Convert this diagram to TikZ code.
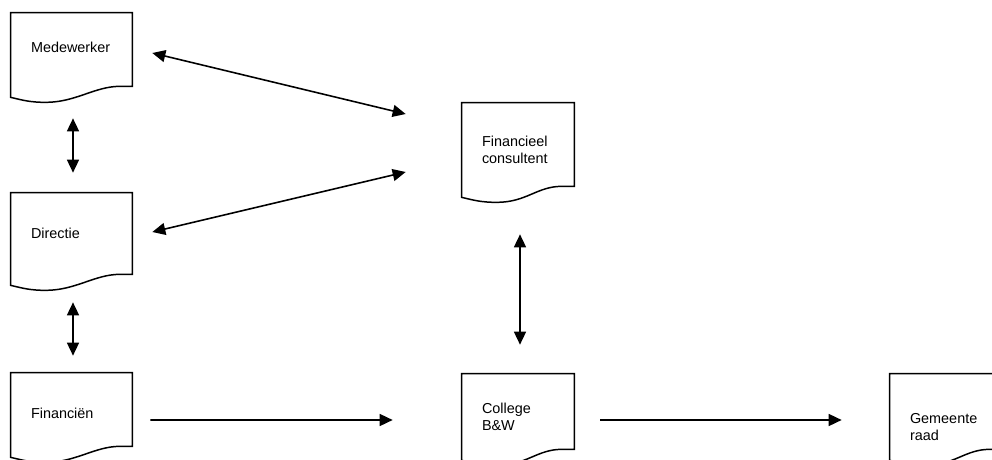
\documentclass[tikz,border=0pt]{standalone}
\usepackage{fontspec}
\setmainfont{Liberation Sans}
\usetikzlibrary{arrows.meta,positioning}

% document outline with wavy bottom, drawn round a named node
\newcommand{\docoutline}[1]{%
  \draw[docline] ([yshift=0.22cm]#1.south east) -- (#1.north east) -- (#1.north west)
    -- (#1.south west)
    .. controls +(0.25cm,-0.06cm) and +(-0.3cm,0cm) .. ([xshift=0.7cm,yshift=-0.1cm]#1.south west)
    .. controls +(0.6cm,0cm) and +(-0.5cm,0cm) .. ([xshift=-0.25cm,yshift=0.22cm]#1.south east)
    -- cycle;}

\begin{document}
\begin{tikzpicture}[x=0.02cm, y=-0.02cm,
    docbox/.style={inner xsep=0.4cm, inner ysep=0pt, align=left,
        font=\fontsize{8.2}{9.6}\selectfont},
    widedoc/.style={docbox, minimum width=2.42cm, text width=1.62cm},
    narrowdoc/.style={docbox, minimum width=2.24cm, text width=1.44cm},
    docline/.style={line width=0.85pt, black},
    arr/.style={-{Triangle[length=0.26cm, width=0.24cm]}, line width=0.9pt},
    biarr/.style={{Triangle[length=0.26cm, width=0.24cm]}-{Triangle[length=0.26cm, width=0.24cm]}, line width=0.9pt}
]
    \useasboundingbox (0,0) rectangle (992,460);
    \clip (0,0) rectangle (992,460);

    \node[widedoc, minimum height=1.68cm, text depth=0.32cm] (med) at (71.5,55) {Medewerker};
    \node[widedoc, minimum height=1.84cm, text depth=0.24cm] (dir) at (71.5,239) {Directie};
    \node[widedoc, minimum height=1.68cm, text depth=0.08cm] (fin) at (71.5,415) {Financiën};
    \node[narrowdoc, minimum height=1.88cm] (fc) at (518,150) {Financieel\\consultent};
    \node[narrowdoc, minimum height=1.72cm] (col) at (518,417) {College\\B\&W};
    \node[narrowdoc, minimum height=1.72cm] (gem) at (946,417) {\rule{0pt}{0.6cm}Gemeente\\raad};

    \docoutline{med}
    \docoutline{dir}
    \docoutline{fin}
    \docoutline{fc}
    \docoutline{col}
    \docoutline{gem}

    \draw[biarr] ([xshift=0.4cm,yshift=0.04cm]med.east) -- ([xshift=-1.12cm,yshift=0.72cm]fc.west);
    \draw[biarr] ([xshift=0.4cm,yshift=0.14cm]dir.east) -- ([xshift=-1.12cm,yshift=-0.44cm]fc.west);
    \draw[biarr, shorten <=0.42cm, shorten >=0.4cm] ([xshift=0.03cm]med.south) -- ([xshift=0.03cm]dir.north);
    \draw[biarr, shorten <=0.34cm, shorten >=0.34cm] ([xshift=0.03cm]dir.south) -- ([xshift=0.03cm]fin.north);
    \draw[biarr, shorten <=0.74cm, shorten >=0.58cm] ([xshift=0.04cm]fc.south) -- ([xshift=0.04cm]col.north);
    \draw[arr, shorten <=0.36cm, shorten >=1.38cm] ([yshift=-0.1cm]fin.east) -- ([yshift=-0.06cm]col.west);
    \draw[arr, shorten <=0.52cm, shorten >=0.96cm] ([yshift=-0.06cm]col.east) -- ([yshift=-0.06cm]gem.west);
\end{tikzpicture}
\end{document}
